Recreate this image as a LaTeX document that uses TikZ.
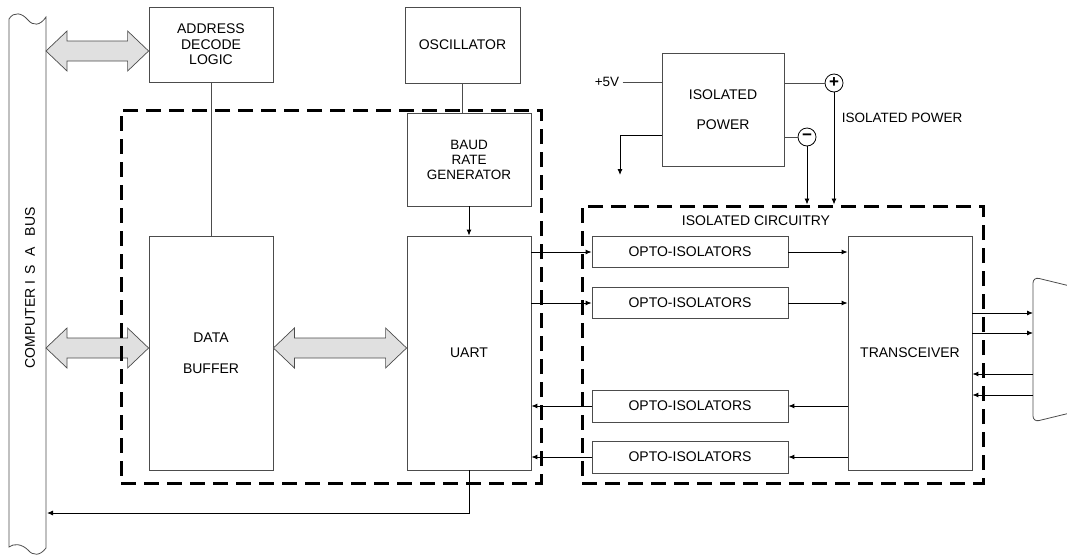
\documentclass[tikz,border=0pt]{standalone}
\usepackage{fontspec}
\setmainfont{Liberation Sans}
\usetikzlibrary{arrows.meta,calc,positioning}

\tikzset{
  blk/.style={draw=black!70, line width=0.8pt, inner sep=0pt, align=center,
    font=\fontsize{14}{15.5}\selectfont},
  sig/.style={line width=0.9pt, -{Latex[length=6pt,width=5pt]}},
  wire/.style={line width=0.8pt, draw=black!70},
  fence/.style={draw, line width=3pt, dash pattern=on 15pt off 8pt, inner sep=0pt},
  fat/.style={draw=black!70, line width=0.7pt, fill=black!12},
  pm/.style={circle, draw, line width=0.8pt, minimum size=18pt, inner sep=0pt,
    font=\fontsize{17}{17}\selectfont\bfseries},
  lbl/.style={font=\fontsize{13.5}{15}\selectfont},
}
% wide two-headed bus arrow between two points
\newcommand{\fatarrow}[2]{%
  \draw[fat] let \p1=(#1), \p2=(#2) in
    (\x1,\y1) -- (\x1+21pt,\y1+20pt) -- (\x1+21pt,\y1+10pt) -- (\x2-21pt,\y2+10pt)
    -- (\x2-21pt,\y2+20pt) -- (\x2,\y2) -- (\x2-21pt,\y2-20pt) -- (\x2-21pt,\y2-10pt)
    -- (\x1+21pt,\y1-10pt) -- (\x1+21pt,\y1-20pt) -- cycle;}

\begin{document}
\begin{tikzpicture}[x=1pt,y=-1pt]
	\useasboundingbox (0,0) rectangle (1067,555);

	% ISA bus
	\draw[wire] (9,19) .. controls (14,11) and (22,13) .. (28,20)
		.. controls (33,26) and (40,26) .. (46,17) -- (46,548)
		.. controls (40,556) and (33,556) .. (28,550)
		.. controls (22,544) and (14,543) .. (9,547) -- cycle;
	\node[lbl, font=\fontsize{14}{15}\selectfont, rotate=90] (bus) at (30,288)
		{COMPUTER I\hspace{2pt} S\hspace{5pt} A\hspace{7pt} BUS};
	\coordinate (busR) at (46,0);

	% computer side
	\node[blk, minimum width=124pt, minimum height=75pt] (addr) at (211,44.5) {ADDRESS\\DECODE\\LOGIC};
	\node[blk, minimum width=115pt, minimum height=76pt] (osc) at (462.5,45) {OSCILLATOR};
	\node[blk, minimum width=124pt, minimum height=93pt, font=\fontsize{13.5}{15}\selectfont] (baud) at (469,159.5) {BAUD\\RATE\\GENERATOR};
	\node[blk, minimum width=124pt, minimum height=234pt] (buf) at (211,353) {DATA\\[15pt]BUFFER};
	\node[blk, minimum width=124pt, minimum height=234pt] (uart) at (469,353) {UART};

	\draw[wire] (addr.south) -- (buf.north);
	\draw[wire] (osc.south) -- (osc.south |- baud.north);
	\draw[sig] (baud.south) -- (uart.north);

	\fatarrow{busR |- 0,51}{addr.west |- 0,51}
	\fatarrow{busR |- 0,348}{buf.west |- 0,348}
	\fatarrow{buf.east |- 0,348}{uart.west |- 0,348}

	\coordinate (busret) at (47,513);
	\draw[sig] (uart.south) |- (busret);

	% isolated power
	\node[blk, minimum width=122pt, minimum height=113pt] (isopow) at (723,109.5) {ISOLATED\\[15pt]POWER};
	\node[lbl] (vin) at (607,82) {+5V};
	\draw[wire] (vin.east) -- (vin.east -| isopow.west);
	\coordinate (gnd) at (620,175);
	\draw[sig] (isopow.west |- 0,135) -| (gnd);
	\node[pm] (plus) at (834,83) {+};
	\node[pm] (minus) at (807,137) {−};
	\draw[wire] (isopow.east |- plus) -- (plus.west);
	\draw[wire] (isopow.east |- minus) -- (minus.west);
	\node[lbl] (isolbl) at (902,118) {ISOLATED POWER};

	% isolated side
	\node[blk, minimum width=196pt, minimum height=31pt] (opto1) at (690,252) {OPTO-ISOLATORS};
	\node[blk, minimum width=196pt, minimum height=31pt] (opto2) at (690,303) {OPTO-ISOLATORS};
	\node[blk, minimum width=196pt, minimum height=32pt] (opto3) at (690,406) {OPTO-ISOLATORS};
	\node[blk, minimum width=196pt, minimum height=32pt] (opto4) at (690,457) {OPTO-ISOLATORS};
	\node[blk, minimum width=124pt, minimum height=234pt] (trans) at (910,353) {TRANSCEIVER};
	\node[font=\fontsize{14}{15}\selectfont] (circlbl) at (756,221) {ISOLATED CIRCUITRY};

	\foreach \o in {opto1,opto2} {
		\draw[sig] (uart.east |- \o) -- (\o.west);
		\draw[sig] (\o.east) -- (\o.east -| trans.west);
	}
	\foreach \o in {opto3,opto4} {
		\draw[sig] (\o.east -| trans.west) -- (\o.east);
		\draw[sig] (\o.west) -- (\o.west -| uart.east);
	}

	% serial connector
	\draw[wire, rounded corners=6pt] (1070,286) -- (1033,277) -- (1033,422) -- (1070,413);
	\coordinate (conn) at (1033,0);
	\foreach \y in {313,333} \draw[sig] (trans.east |- 0,\y) -- (conn |- 0,\y);
	\foreach \y in {374,395} \draw[sig] (conn |- 0,\y) -- (trans.east |- 0,\y);

	% dashed fences, drawn last
	\node[fence, minimum width=420pt, minimum height=373pt] (hostarea) at (331,296.5) {};
	\node[fence, minimum width=401pt, minimum height=277pt] (isoarea) at (782.5,344.5) {};
	\draw[sig] (minus.south) -- (minus.south |- isoarea.north);
	\draw[sig] (plus.south) -- (plus.south |- isoarea.north);
\end{tikzpicture}
\end{document}
